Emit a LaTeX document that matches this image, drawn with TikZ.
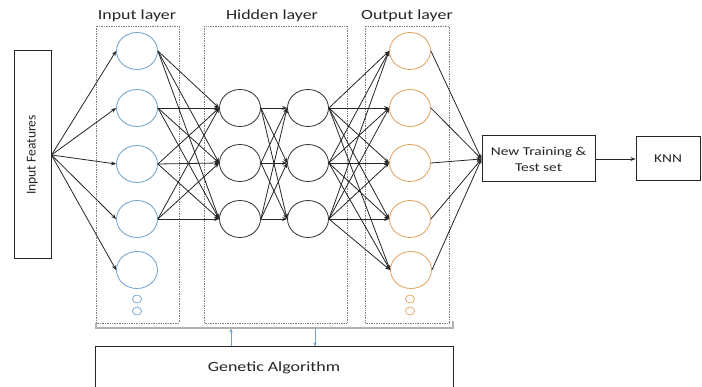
\documentclass[tikz,border=0pt]{standalone}
\usepackage{fontspec}
\setmainfont{Carlito}[FakeStretch=1.28]
\newfontfamily\plainfont{Carlito}
\usetikzlibrary{arrows.meta,shapes.geometric}
\definecolor{inblue}{RGB}{110,160,205}
\definecolor{outorange}{RGB}{225,160,95}
\tikzset{
  neuron/.style={ellipse, draw, line width=0.8pt, minimum width=41pt, minimum height=37pt, inner sep=0pt},
  inneuron/.style={neuron, draw=inblue},
  hidneuron/.style={neuron, draw=black!80},
  outneuron/.style={neuron, draw=outorange},
  layerbox/.style={draw=gray, densely dotted, line width=0.7pt},
  conn/.style={-{Stealth[length=5pt,width=4pt]}, line width=0.8pt, color=black!85},
  gaarrow/.style={-{Stealth[length=4pt,width=3.5pt]}, line width=0.9pt, draw=inblue},
  plainbox/.style={draw=black!85, line width=1pt, align=center, text=black!85, inner sep=0pt},
  heading/.style={text=black!85, font=\fontsize{14}{16}\selectfont}
}

\begin{document}
\begin{tikzpicture}[x=1pt,y=-1pt]
		%%%%% FRAME %%%%%
		\clip (0,0) rectangle (702,387);
		\fill[white] (0,0) rectangle (702,387);
		
		%%%%% LAYER BOXES %%%%%
		\draw[layerbox] (96,26) rectangle (179,323);
		\draw[layerbox] (204,26) rectangle (347,323);
		\draw[layerbox] (365,26) rectangle (449,323);
		\node[heading] (inlbl) at (137,16) {Input layer};
		\node[heading] (hidlbl) at (272,16) {Hidden layer};
		\node[heading] (outlbl) at (407,16) {Output layer};
		
		%%%%% INPUT FEATURES %%%%%
		\node[plainbox, minimum width=37pt, minimum height=208pt] (feat) at (32.5,155)
			{\rotatebox{90}{\plainfont\fontsize{13.5}{16}\selectfont Input Features}};
		
		%%%%% NEURONS %%%%%
		\node[inneuron] (i1) at (137,51) {};
		\node[inneuron] (i2) at (137,108) {};
		\node[inneuron] (i3) at (137,164) {};
		\node[inneuron] (i4) at (137,219) {};
		\node[inneuron] (i5) at (137,270) {};
		\draw[inblue, line width=0.7pt] (137,299) ellipse (4.5 and 4);
		\draw[inblue, line width=0.7pt] (137,311) ellipse (4.5 and 4);
		
		\node[hidneuron] (h1) at (240,108) {};
		\node[hidneuron] (h2) at (240,163) {};
		\node[hidneuron] (h3) at (240,219) {};
		\node[hidneuron] (k1) at (308,108) {};
		\node[hidneuron] (k2) at (308,163) {};
		\node[hidneuron] (k3) at (308,219) {};
		
		\node[outneuron] (o1) at (410,51) {};
		\node[outneuron] (o2) at (410,108) {};
		\node[outneuron] (o3) at (410,163) {};
		\node[outneuron] (o4) at (410,219) {};
		\node[outneuron] (o5) at (411,270) {};
		\draw[outorange, line width=0.7pt] (410,299) ellipse (4.5 and 4);
		\draw[outorange, line width=0.7pt] (410,311) ellipse (4.5 and 4);
		
		%%%%% RIGHT BOXES %%%%%
		\node[plainbox, minimum width=113pt, minimum height=46pt,
			font=\fontsize{12}{16}\selectfont] (newset) at (538.5,159) {New Training \&\\Test set};
		\node[plainbox, minimum width=64pt, minimum height=44pt,
			font=\fontsize{12}{16}\selectfont] (knn) at (668,159) {KNN};
		
		%%%%% CONNECTIONS %%%%%
		\path[conn] (feat.east) edge (i1.west) edge (i2.west) edge (i3.west) edge (i4.west) edge (i5.west);
		
		\path[conn] (i1.east) edge (h1.west) edge (h2.west) edge (h3.west);
		\path[conn] (i2.east) edge (h1.west) edge (h2.west) edge (h3.west);
		\path[conn] (i3.east) edge (h1.west) edge (h2.west) edge (h3.west);
		\path[conn] (i4.east) edge (h1.west) edge (h2.west) edge (h3.west);
		
		\path[conn] (h1.east) edge (k1.west) edge (k2.west) edge (k3.west);
		\path[conn] (h2.east) edge (k1.west) edge (k2.west) edge (k3.west);
		\path[conn] (h3.east) edge (k1.west) edge (k2.west) edge (k3.west);
		
		\path[conn] (k1.east) edge (o1.west) edge (o2.west) edge (o3.west) edge (o4.west) edge (o5.west);
		\path[conn] (k2.east) edge (o1.west) edge (o2.west) edge (o3.west) edge (o4.west) edge (o5.west);
		\path[conn] (k3.east) edge (o1.west) edge (o2.west) edge (o3.west) edge (o4.west) edge (o5.west);
		
		\path[conn] (o1.east) edge (newset.west);
		\path[conn] (o2.east) edge (newset.west);
		\path[conn] (o3.east) edge (newset.west);
		\path[conn] (o4.east) edge (newset.west);
		\path[conn] (o5.east) edge (newset.west);
		\draw[conn] (newset.east) -- (knn.west);
		
		%%%%% GENETIC ALGORITHM %%%%%
		\draw[gray!60, line width=1.2pt] (96,323) -- (96,328) -- (453,328) -- (453,321);
		\node[plainbox, minimum width=358pt, minimum height=42pt,
			font=\fontsize{14}{16}\selectfont] (ga) at (274,368) {Genetic Algorithm};
		\coordinate (gaup) at (231,328.6);
		\coordinate (gadown) at (315,328.6);
		\draw[gaarrow] (gaup |- ga.north) -- (gaup);
		\draw[gaarrow] (gadown) -- (gadown |- ga.north);
		%%%%% END %%%%%
	\end{tikzpicture}
\end{document}
